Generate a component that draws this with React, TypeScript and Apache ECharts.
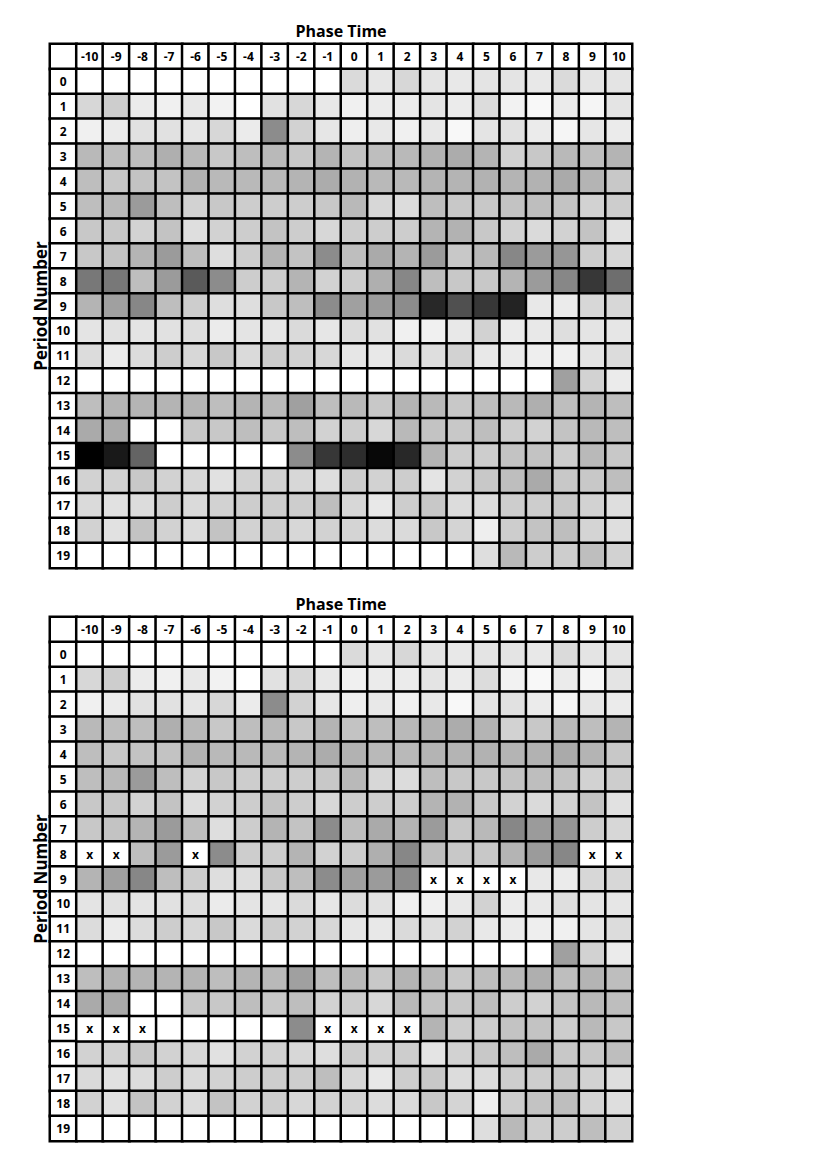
import React, { useEffect, useRef } from "react";
import * as echarts from "echarts";

const phaseTimes = ["-10", "-9", "-8", "-7", "-6", "-5", "-4", "-3", "-2", "-1", "0", "1", "2", "3", "4", "5", "6", "7", "8", "9", "10"];
const periodNumbers = ["0", "1", "2", "3", "4", "5", "6", "7", "8", "9", "10", "11", "12", "13", "14", "15", "16", "17", "18", "19"];

// shade (darkness, 0 = white, 255 = black) per period row, per phase column
const shadeRows: number[][] = [
  [0, 0, 0, 0, 0, 0, 0, 0, 0, 0, 37, 25, 40, 27, 23, 27, 27, 23, 37, 27, 27],
  [40, 50, 20, 15, 23, 13, 0, 30, 40, 23, 15, 20, 20, 27, 20, 35, 13, 7, 20, 10, 27],
  [15, 20, 30, 30, 25, 40, 20, 115, 45, 25, 17, 23, 15, 23, 7, 27, 30, 20, 10, 25, 20],
  [70, 65, 65, 80, 70, 55, 65, 70, 55, 75, 60, 65, 70, 77, 83, 75, 45, 55, 70, 65, 75],
  [65, 55, 60, 60, 77, 70, 70, 70, 75, 83, 77, 70, 70, 75, 75, 77, 75, 77, 85, 75, 55],
  [65, 70, 100, 65, 45, 55, 50, 50, 50, 55, 70, 40, 35, 65, 55, 55, 60, 65, 60, 45, 50],
  [55, 55, 45, 60, 33, 45, 50, 60, 50, 40, 50, 50, 50, 75, 77, 55, 45, 37, 45, 60, 30],
  [55, 60, 75, 100, 65, 33, 50, 75, 60, 115, 65, 85, 75, 100, 55, 70, 120, 100, 105, 50, 40],
  [135, 135, 65, 100, 165, 115, 50, 50, 75, 45, 50, 80, 120, 65, 55, 55, 75, 100, 120, 200, 145],
  [75, 95, 120, 65, 50, 33, 33, 55, 65, 115, 95, 100, 115, 215, 175, 200, 220, 23, 20, 40, 40],
  [27, 30, 27, 30, 33, 20, 27, 25, 37, 25, 35, 30, 15, 15, 23, 45, 20, 23, 33, 27, 25],
  [35, 20, 35, 50, 40, 55, 37, 50, 45, 40, 25, 23, 37, 33, 45, 23, 20, 17, 15, 27, 35],
  [0, 0, 0, 0, 0, 0, 0, 0, 0, 0, 0, 0, 0, 0, 0, 0, 0, 0, 95, 45, 20],
  [65, 75, 75, 75, 75, 65, 75, 70, 95, 65, 70, 55, 75, 70, 55, 65, 70, 80, 65, 75, 65],
  [85, 85, 0, 0, 55, 55, 65, 55, 65, 45, 50, 40, 70, 60, 55, 65, 50, 45, 60, 70, 65],
  [255, 230, 155, 0, 0, 0, 0, 0, 115, 200, 210, 247, 215, 75, 50, 50, 60, 60, 50, 70, 55],
  [45, 45, 55, 45, 40, 30, 45, 45, 40, 33, 50, 45, 50, 27, 45, 55, 65, 85, 55, 55, 65],
  [37, 30, 35, 50, 37, 45, 50, 50, 50, 65, 40, 23, 50, 55, 35, 35, 50, 50, 55, 45, 33],
  [45, 30, 60, 45, 35, 60, 45, 50, 40, 45, 43, 35, 37, 55, 43, 17, 50, 60, 65, 43, 33],
  [0, 0, 0, 0, 0, 0, 0, 0, 0, 0, 0, 0, 0, 0, 0, 33, 70, 50, 50, 65, 45],
];

// cells removed in the second chart: [phase, period]
const maskedCells: [string, string][] = [
  ["-10", "8"], ["-9", "8"], ["-6", "8"], ["9", "8"], ["10", "8"],
  ["3", "9"], ["4", "9"], ["5", "9"], ["6", "9"],
  ["-10", "15"], ["-9", "15"], ["-8", "15"], ["-1", "15"], ["0", "15"], ["1", "15"], ["2", "15"],
];

const chartTitle = "Phase Time";
const rowTitle = "Period Number";

export default function App() {
  const ref = useRef<HTMLDivElement>(null);
  useEffect(() => {
    if (!ref.current) return;
    const chart = echarts.init(ref.current, undefined, { renderer: "svg" });
    const xCats = ["", ...phaseTimes];
    const yCats = ["", ...periodNumbers];
    const font = "Open Sans";

    const headerData: number[][] = [[0, 0, 0]];
    phaseTimes.forEach((_, i) => headerData.push([i + 1, 0, 0]));
    periodNumbers.forEach((_, i) => headerData.push([0, i + 1, 0]));

    const maskKey = new Set(maskedCells.map(([p, r]) => p + "|" + r));
    const fullData: number[][] = [];
    const keptData: number[][] = [];
    shadeRows.forEach((row, r) =>
      row.forEach((v, c) => {
        const cell = [c + 1, r + 1, v];
        fullData.push(cell);
        if (!maskKey.has(phaseTimes[c] + "|" + periodNumbers[r])) keptData.push(cell);
      })
    );
    const maskData = maskedCells.map(([p, r]) => [phaseTimes.indexOf(p) + 1, periodNumbers.indexOf(r) + 1, 0]);

    const cellStyle = { borderColor: "#000", borderWidth: 2.5 };
    const labelBase = { show: true, color: "#000", fontWeight: "bold" as const, fontFamily: font, fontSize: 12 };

    const headerSeries = (gi: number) => ({
      type: "heatmap",
      xAxisIndex: gi,
      yAxisIndex: gi,
      data: headerData,
      itemStyle: cellStyle,
      label: {
        ...labelBase,
        formatter: (p: any) => {
          const [x, y] = p.value;
          if (y === 0 && x > 0) return phaseTimes[x - 1];
          if (x === 0 && y > 0) return periodNumbers[y - 1];
          return "";
        },
      },
      emphasis: { disabled: true },
      silent: true,
    });

    const grids = [
      { left: 50, top: 44, width: 582, height: 524 },
      { left: 50, top: 617, width: 582, height: 524 },
    ];

    chart.setOption({
      animation: false,
      backgroundColor: "#fff",
      grid: grids,
      xAxis: grids.map((_, i) => ({
        type: "category",
        gridIndex: i,
        data: xCats,
        show: false,
      })),
      yAxis: grids.map((_, i) => ({
        type: "category",
        gridIndex: i,
        data: yCats,
        inverse: true,
        show: false,
      })),
      visualMap: {
        show: false,
        min: 0,
        max: 255,
        inRange: { color: ["#ffffff", "#000000"] },
      },
      series: [
        headerSeries(0),
        {
          type: "heatmap",
          xAxisIndex: 0,
          yAxisIndex: 0,
          data: fullData,
          itemStyle: cellStyle,
          emphasis: { disabled: true },
          silent: true,
        },
        headerSeries(1),
        {
          type: "heatmap",
          xAxisIndex: 1,
          yAxisIndex: 1,
          data: keptData,
          itemStyle: cellStyle,
          emphasis: { disabled: true },
          silent: true,
        },
        {
          type: "heatmap",
          xAxisIndex: 1,
          yAxisIndex: 1,
          data: maskData,
          itemStyle: cellStyle,
          label: { ...labelBase, formatter: () => "x" },
          emphasis: { disabled: true },
          silent: true,
        },
      ],
      graphic: grids.flatMap((g) => [
        {
          type: "text",
          x: g.left + g.width / 2,
          y: g.top - 13,
          style: {
            text: chartTitle,
            font: `bold 16px "${font}"`,
            fill: "#000",
            align: "center",
            verticalAlign: "middle",
          },
        },
        {
          type: "text",
          x: 40,
          y: g.top + g.height / 2,
          rotation: Math.PI / 2,
          style: {
            text: rowTitle,
            font: `bold 17px "${font}"`,
            fill: "#000",
            align: "center",
            verticalAlign: "middle",
          },
        },
      ]),
    });
    return () => chart.dispose();
  }, []);
  return <div ref={ref} style={{ position: "absolute", left: 0, top: 0, width: 830, height: 1176 }} />;
}
